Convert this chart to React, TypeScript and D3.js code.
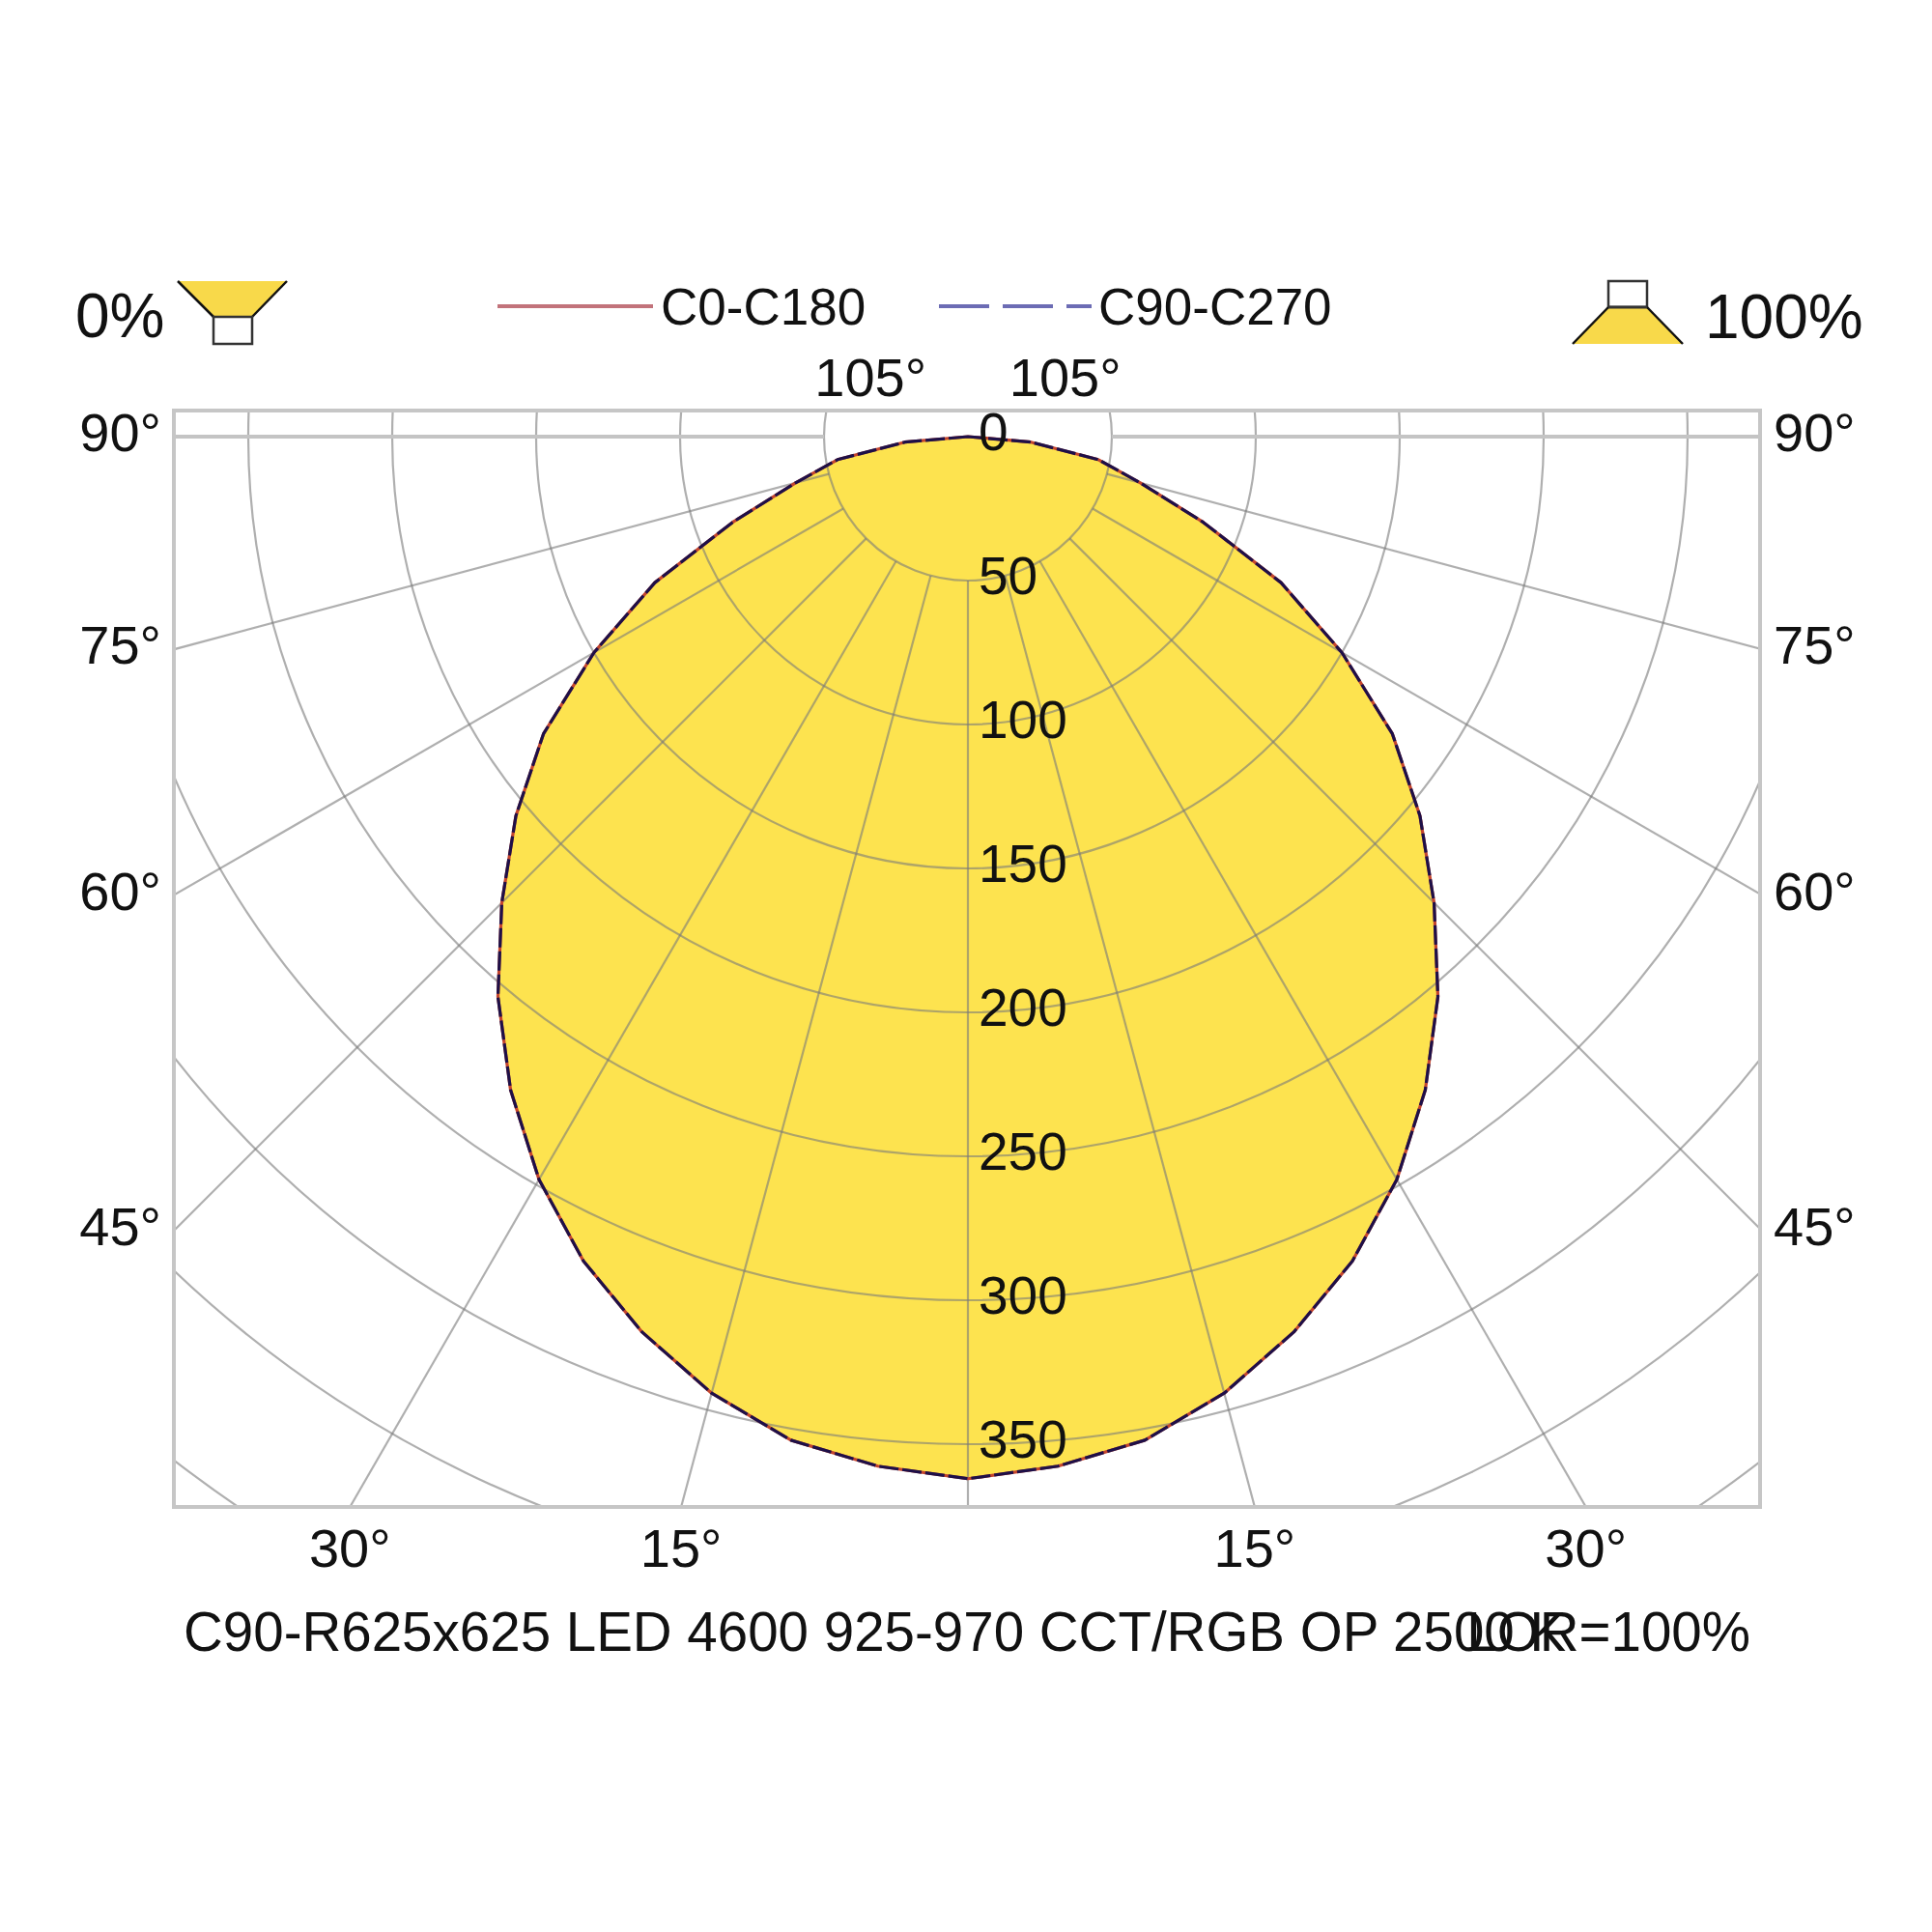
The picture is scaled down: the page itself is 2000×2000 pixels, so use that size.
import React from 'react';
import * as d3 from 'd3';

// ---- data ----
const angles = [0, 5, 10, 15, 20, 25, 30, 35, 40, 45, 50, 55, 60, 65, 70, 75, 80, 85, 90];
const c0c180 = [362, 359, 354, 344, 331, 316, 298, 277, 254, 229, 205, 180, 150, 120, 87, 62, 46, 22, 0];
const c90c270 = [362, 359, 354, 344, 331, 316, 298, 277, 254, 229, 205, 180, 150, 120, 87, 62, 46, 22, 0];
const ringValues = [50, 100, 150, 200, 250, 300, 350, 400, 450, 500];
const ringLabels = [0, 50, 100, 150, 200, 250, 300, 350];
const gridAngles = [-90, -75, -60, -45, -30, -15, 0, 15, 30, 45, 60, 75, 90];
const sideTicks = [90, 75, 60, 45];
const bottomTicks = [30, 15];
const topTicks = [105];
const legendNames = ['C0-C180', 'C90-C270'];
const titleText = 'C90-R625x625 LED 4600 925-970 CCT/RGB OP 2500 K';
const lorText = 'LOR=100%';

// ---- layout ----
const W = 2000;
const H = 2000;
const frame = { left: 180, right: 1822, top: 425, bottom: 1560 };
const cx = 1002;
const cy = 452;
const rScale = d3.scaleLinear().domain([0, 50]).range([0, 149]);
const font = '"Liberation Sans", Arial, Helvetica, sans-serif';
const yellow = '#fde34f';
const deg = Math.PI / 180;

function curvePoints(vals: number[]): [number, number][] {
  const left: [number, number][] = angles.map((a, i) => [-a, vals[i]] as [number, number]).reverse();
  const right: [number, number][] = angles.map((a, i) => [a, vals[i]] as [number, number]).slice(1);
  return [...left, ...right];
}

const radial = d3
  .lineRadial<[number, number]>()
  .angle((d) => Math.PI - d[0] * deg)
  .radius((d) => rScale(d[1]))
  .curve(d3.curveLinearClosed);

const pt = (phi: number, R: number) => [cx + R * Math.sin(phi * deg), cy + R * Math.cos(phi * deg)];

export default function App() {
  const p0 = radial(curvePoints(c0c180)) || '';
  const p90 = radial(curvePoints(c90c270)) || '';
  const inner = rScale(50);
  const halfW = cx - frame.left;
  const downH = frame.bottom - cy;
  const upH = cy - frame.top;

  return (
    <svg
      width={W}
      height={H}
      viewBox={`0 0 ${W} ${H}`}
      style={{ position: 'absolute', left: 0, top: 0, background: '#fff' }}
      fontFamily={font}
    >
      <defs>
        <clipPath id="frameClip">
          <rect x={frame.left} y={frame.top} width={frame.right - frame.left} height={frame.bottom - frame.top} />
        </clipPath>
      </defs>
      <rect x={0} y={0} width={W} height={H} fill="#fff" />

      {/* fill */}
      <g transform={`translate(${cx},${cy})`}>
        <path d={p0} fill={yellow} stroke="none" />
      </g>

      {/* grid */}
      <g clipPath="url(#frameClip)">
        {ringValues.map((v) => (
          <circle key={v} cx={cx} cy={cy} r={rScale(v)} fill="none" stroke="#7a7a7a" strokeOpacity={0.6} strokeWidth={2.2} />
        ))}
        {gridAngles.map((a) => {
          const [x1, y1] = pt(a, inner);
          const [x2, y2] = pt(a, 2400);
          const horiz = Math.abs(a) === 90;
          return (
            <line
              key={a}
              x1={x1}
              y1={y1}
              x2={x2}
              y2={y2}
              stroke={horiz ? '#c4c4c4' : '#7a7a7a'}
              strokeOpacity={horiz ? 1 : 0.6}
              strokeWidth={horiz ? 4 : 2.2}
            />
          );
        })}
      </g>
      <rect
        x={frame.left}
        y={frame.top}
        width={frame.right - frame.left}
        height={frame.bottom - frame.top}
        fill="none"
        stroke="#c6c6c6"
        strokeWidth={4}
      />

      {/* curves */}
      <g transform={`translate(${cx},${cy})`}>
        <path d={p0} fill="none" stroke="#c4452e" strokeWidth={3.2} strokeLinejoin="round" />
        <path d={p90} fill="none" stroke="#1e1048" strokeWidth={3.2} strokeDasharray="20 4" strokeLinejoin="round" />
      </g>

      {/* ring labels */}
      {ringLabels.map((v) => (
        <text key={v} x={cx + 11} y={cy + rScale(v) + 14} fontSize={55} fill="#111">
          {v}
        </text>
      ))}

      {/* side angle labels */}
      {sideTicks.map((a) => {
        const y = cy + halfW / Math.tan(a * deg);
        return (
          <g key={a}>
            <text x={frame.left - 13} y={y + 15} fontSize={56} textAnchor="end" fill="#111">
              {a}°
            </text>
            <text x={frame.right + 14} y={y + 15} fontSize={56} textAnchor="start" fill="#111">
              {a}°
            </text>
          </g>
        );
      })}
      {bottomTicks.map((a) => {
        const dx = downH * Math.tan(a * deg);
        return (
          <g key={a}>
            <text x={cx - dx} y={frame.bottom + 62} fontSize={56} textAnchor="middle" fill="#111">
              {a}°
            </text>
            <text x={cx + dx} y={frame.bottom + 62} fontSize={56} textAnchor="middle" fill="#111">
              {a}°
            </text>
          </g>
        );
      })}
      {topTicks.map((a) => {
        const R = upH / -Math.cos(a * deg);
        const dx = R * Math.sin(a * deg);
        return (
          <g key={a}>
            <text x={cx - dx} y={410} fontSize={56} textAnchor="middle" fill="#111">
              {a}°
            </text>
            <text x={cx + dx} y={410} fontSize={56} textAnchor="middle" fill="#111">
              {a}°
            </text>
          </g>
        );
      })}

      {/* header: 0% icon */}
      <text x={78} y={349} fontSize={64} fill="#111">0%</text>
      <polygon points="184,291 297,291 261,328 221,328" fill="#f8d94a" />
      <line x1={184} y1={291} x2={221} y2={328} stroke="#111" strokeWidth={2.5} />
      <line x1={297} y1={291} x2={261} y2={328} stroke="#111" strokeWidth={2.5} />
      <rect x={221} y={328} width={40} height={28} fill="#fff" stroke="#333" strokeWidth={2.5} />

      {/* header: 100% icon */}
      <rect x={1665} y={291} width={40} height={27} fill="#fff" stroke="#333" strokeWidth={2.5} />
      <polygon points="1665,318 1705,318 1742,356 1628,356" fill="#f8d94a" />
      <line x1={1665} y1={318} x2={1628} y2={356} stroke="#111" strokeWidth={2.5} />
      <line x1={1705} y1={318} x2={1742} y2={356} stroke="#111" strokeWidth={2.5} />
      <line x1={1665} y1={318} x2={1705} y2={318} stroke="#333" strokeWidth={3} />
      <text x={1765} y={350} fontSize={64} fill="#111">100%</text>

      {/* legend */}
      <line x1={515} y1={317} x2={676} y2={317} stroke="#c2737b" strokeWidth={4} />
      <text x={684} y={336} fontSize={53} fill="#111">{legendNames[0]}</text>
      <line x1={972} y1={317} x2={1130} y2={317} stroke="#6c6cb4" strokeWidth={4} strokeDasharray="52 14" />
      <text x={1137} y={336} fontSize={53} fill="#111">{legendNames[1]}</text>

      {/* title */}
      <text x={190} y={1709} fontSize={56.5} fill="#111">{titleText}</text>
      <text x={1812} y={1709} fontSize={56.5} textAnchor="end" fill="#111">{lorText}</text>
    </svg>
  );
}
